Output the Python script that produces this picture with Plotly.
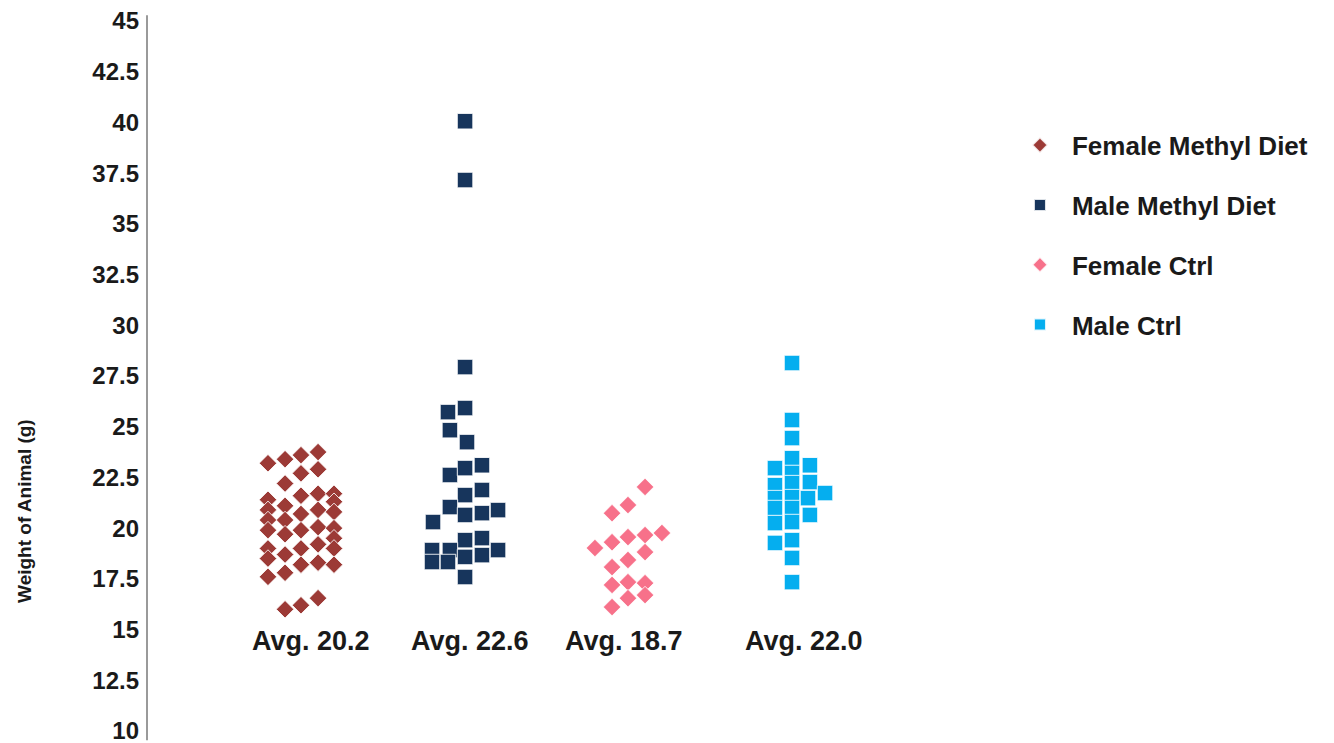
import plotly.graph_objects as go

# ---- data (x = position along the category axis, y = weight in g) ----
fm_x = [0.744]*8 + [0.849]*8 + [0.947]*8 + [1.052]*8 + [1.150]*7
fm_y = [23.2, 21.4, 20.9, 20.4, 19.9, 19.0, 18.5, 17.6,
        23.4, 22.2, 21.1, 20.4, 19.7, 18.7, 17.8, 16.0,
        23.6, 22.7, 21.6, 20.7, 19.9, 19.0, 18.2, 16.2,
        23.75, 22.9, 21.7, 20.9, 20.05, 19.2, 18.3, 16.55,
        21.7, 21.3, 20.8, 20.0, 19.5, 19.0, 18.2]

mm_x = [1.956, 1.956, 1.956, 1.851, 1.956, 1.863, 1.968, 1.863, 1.956, 2.060,
        1.956, 2.060, 1.863, 1.956, 2.060, 2.159, 1.759, 1.956, 2.060, 1.753,
        1.863, 1.956, 2.060, 2.159, 1.753, 1.851, 1.956]
mm_y = [40.06, 37.16, 27.94, 25.72, 25.92, 24.83, 24.24, 22.62, 22.96, 23.1,
        21.63, 21.88, 21.04, 20.65, 20.74, 20.89, 20.3, 19.41, 19.51, 18.92,
        18.92, 18.58, 18.67, 18.92, 18.33, 18.33, 17.59]

fc_x = [3.063, 2.860, 2.958, 2.755, 2.860, 2.958, 3.063, 3.167, 2.958,
        3.063, 2.860, 2.860, 2.958, 3.063, 2.958, 3.063, 2.860]
fc_y = [22.03, 20.74, 21.14, 19.02, 19.31, 19.56, 19.66, 19.76, 18.43,
        18.82, 18.08, 17.2, 17.34, 17.29, 16.55, 16.7, 16.11]

mc_x = [3.967, 3.967, 3.967, 3.967, 3.862, 4.077, 3.967, 3.862, 3.967, 4.077,
        4.170, 3.862, 3.967, 4.065, 3.862, 3.967, 4.077, 3.862, 3.967, 3.862,
        3.967, 3.967, 3.967]
mc_y = [28.14, 25.33, 24.44, 23.45, 22.96, 23.1, 22.72, 22.12, 22.22, 22.27,
        21.73, 21.48, 21.53, 21.48, 20.99, 20.99, 20.65, 20.25, 20.3, 19.27,
        19.41, 18.53, 17.34]

avg_labels = ["Avg. 20.2", "Avg. 22.6", "Avg. 18.7", "Avg. 22.0"]
avg_x = [1.009, 1.986, 2.934, 4.041]
avg_y = 14.44

y_ticks = [10, 12.5, 15, 17.5, 20, 22.5, 25, 27.5, 30, 32.5, 35, 37.5, 40, 42.5, 45]

FONT = "Liberation Sans, Arial, sans-serif"

fig = go.Figure()
series = [
    ("Female Methyl Diet", fm_x, fm_y, "diamond", "#9C3A36", 13.5),
    ("Male Methyl Diet", mm_x, mm_y, "square", "#17355C", 15.5),
    ("Female Ctrl", fc_x, fc_y, "diamond", "#F7718A", 13.5),
    ("Male Ctrl", mc_x, mc_y, "square", "#05AEEF", 15.5),
]
for name, xs, ys, sym, col, sz in series:
    fig.add_trace(go.Scatter(
        x=xs, y=ys, mode="markers", name=name, legendgroup=name,
        marker=dict(symbol=sym, color=col, size=sz,
                    line=dict(color="rgba(255,255,255,0.85)", width=1)),
    ))

for lab, ax in zip(avg_labels, avg_x):
    fig.add_annotation(x=ax, y=avg_y, text=lab, showarrow=False,
                       font=dict(family=FONT, size=27, color="#1a1a1a", weight="bold"),
                       xanchor="center", yanchor="middle")

fig.add_annotation(xref="paper", yref="paper", x=-0.150, y=0.31,
                   text="Weight of Animal (g)", textangle=-90, showarrow=False,
                   font=dict(family=FONT, size=19, color="#1a1a1a", weight="bold"),
                   xanchor="center", yanchor="middle")

# vertical axis line (slightly longer than the value range, as in the reference)
fig.add_shape(type="line", xref="paper", yref="paper", x0=0, x1=0, y0=-0.013, y1=1.008,
              line=dict(color="#9a9a9a", width=2))

fig.update_layout(
    width=1334, height=743,
    margin=dict(l=139, r=382, t=13, b=20, autoexpand=False),
    paper_bgcolor="white", plot_bgcolor="white",
    showlegend=True,
    legend=dict(
        xref="container", yref="container", x=0.7496, y=0.847,
        xanchor="left", yanchor="top",
        font=dict(family=FONT, size=26, color="#1a1a1a", weight="bold"),
        tracegroupgap=23, itemsizing="constant", traceorder="grouped",
        itemwidth=54,
    ),
    xaxis=dict(range=[0, 5], visible=False, showgrid=False, zeroline=False,
               automargin=False),
    yaxis=dict(range=[10, 45], tickvals=y_ticks, ticktext=[f"{v:g}" for v in y_ticks],
               showgrid=False, zeroline=False, showline=False,
               ticks="", ticklabelstandoff=7, automargin=False,
               ticklabeloverflow="allow",
               tickfont=dict(family=FONT, size=24, color="#1a1a1a", weight="bold")),
)

fig.write_html("out.html")
